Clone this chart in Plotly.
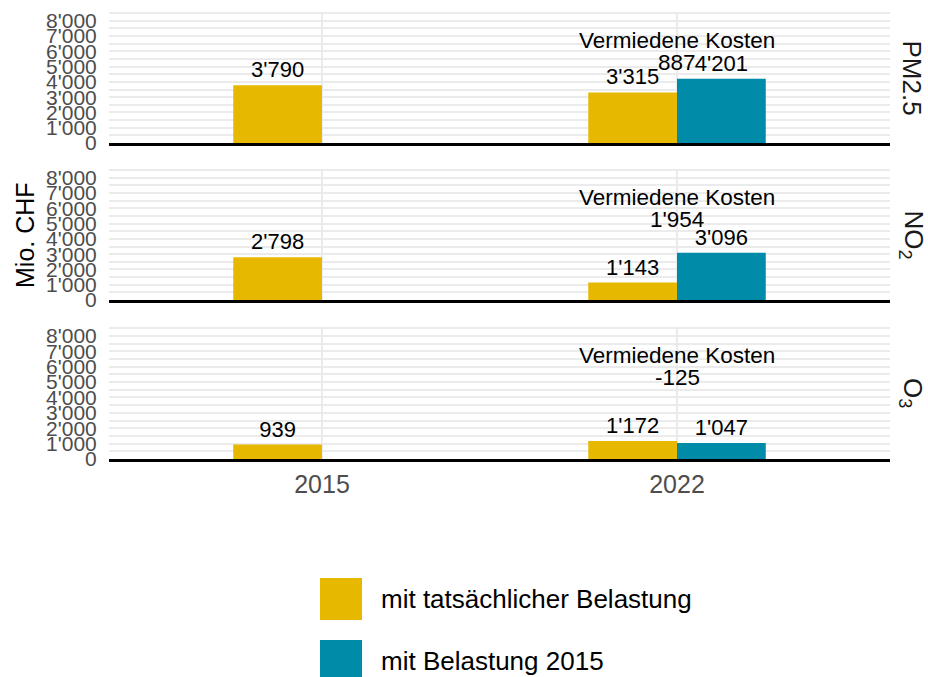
import plotly.graph_objects as go
from plotly.subplots import make_subplots

# ---- data ----
years = ["2015", "2022"]
pollutants = ["PM2.5", "NO<sub>2</sub>", "O<sub>3</sub>"]
actual = [[3790, 3315], [2798, 1143], [939, 1172]]          # mit tatsächlicher Belastung
base2015 = [[None, 4201], [None, 3096], [None, 1047]]        # mit Belastung 2015
avoided = [887, 1954, -125]                                  # Vermiedene Kosten (2022)
series_names = ["mit tatsächlicher Belastung", "mit Belastung 2015"]
colors = ["#E7B800", "#008BA8"]
y_tickvals = [0, 1000, 2000, 3000, 4000, 5000, 6000, 7000, 8000]
y_ticktext = ["0", "1'000", "2'000", "3'000", "4'000", "5'000", "6'000", "7'000", "8'000"]
avoided_y = 6000
avoided_year = "2022"

FONT = "Liberation Sans"


def fmt(v):
    if v is None:
        return ""
    return f"{v:,}".replace(",", "'")


W, H = 928, 677


def px_x(x):
    return x / W


def px_y(y):
    return 1 - y / H


fig = make_subplots(rows=3, cols=1, shared_xaxes=True)

panels_px = [(12, 143), (169, 300), (327, 459)]
xdom = [px_x(109), px_x(890)]

for i in range(3):
    r = i + 1
    for vals, name, col in [(actual[i], series_names[0], colors[0]),
                            (base2015[i], series_names[1], colors[1])]:
        fig.add_trace(go.Bar(
            x=years, y=vals, name=name, marker_color=col, marker_line_width=0,
            text=[fmt(v) for v in vals], textposition="outside",
            textfont=dict(size=22, color="black", family=FONT),
            outsidetextfont=dict(size=22, color="black", family=FONT),
            constraintext="none", cliponaxis=False, showlegend=False,
            hoverinfo="skip",
        ), row=r, col=1)
    ax = "" if r == 1 else str(r)
    xi = years.index(avoided_year)
    fig.add_annotation(x=xi, y=avoided_y, xref=f"x{ax}", yref=f"y{ax}",
                       xanchor="center", yanchor="middle",
                       text="Vermiedene Kosten", showarrow=False, yshift=11,
                       font=dict(size=22.5, color="black", family=FONT))
    fig.add_annotation(x=xi, y=avoided_y, xref=f"x{ax}", yref=f"y{ax}",
                       xanchor="center", yanchor="middle",
                       text=fmt(avoided[i]), showarrow=False, yshift=-11,
                       font=dict(size=22.5, color="black", family=FONT))
    top, bot = panels_px[i]
    ydom = [px_y(bot), px_y(top)]
    fig.update_yaxes(row=r, col=1, domain=ydom, range=[0, 8580],
                     tickvals=y_tickvals, ticktext=y_ticktext,
                     ticks="outside", ticklen=7, tickcolor="rgba(0,0,0,0)",
                     tickfont=dict(size=21, color="#4d4d4d", family=FONT),
                     showgrid=True, gridcolor="#ebebeb", gridwidth=2,
                     zeroline=False, showline=False, automargin=False,
                     minor=dict(dtick=500, tick0=0, showgrid=True,
                                gridcolor="#ebebeb", gridwidth=2))
    fig.update_xaxes(row=r, col=1, domain=xdom, type="category", range=[-0.6, 1.6],
                     showgrid=True, gridcolor="#ebebeb", gridwidth=2,
                     showline=True, linecolor="black", linewidth=2.5,
                     ticks="outside", ticklen=1, tickcolor="rgba(0,0,0,0)",
                     showticklabels=(r == 3), automargin=False,
                     tickfont=dict(size=25, color="#4d4d4d", family=FONT))
    fig.add_annotation(x=px_x(912), y=px_y((top + bot) / 2), xref="paper", yref="paper",
                       xanchor="center", yanchor="middle",
                       text=pollutants[i], showarrow=False, textangle=90,
                       font=dict(size=26, color="#1a1a1a", family=FONT))

fig.add_annotation(x=px_x(25), y=px_y(235), xref="paper", yref="paper",
                   xanchor="center", yanchor="middle",
                   text="Mio. CHF", showarrow=False, textangle=-90,
                   font=dict(size=25, color="black", family=FONT))

legend_rows = [(578, 620), (640, 682)]
for (y0, y1), name, col in zip(legend_rows, series_names, colors):
    fig.add_shape(type="rect", xref="paper", yref="paper",
                  x0=px_x(320), x1=px_x(362), y0=px_y(y1), y1=px_y(y0),
                  fillcolor=col, line_width=0)
    fig.add_annotation(x=px_x(379), y=px_y((y0 + y1) / 2), xref="paper", yref="paper",
                       xanchor="left", yanchor="middle", text=name, showarrow=False,
                       font=dict(size=26, color="black", family=FONT))

fig.update_layout(
    width=W, height=H, barmode="group", bargap=0.5, bargroupgap=0,
    margin=dict(l=0, r=0, t=0, b=0),
    plot_bgcolor="white", paper_bgcolor="white", showlegend=False,
    font=dict(family=FONT), hovermode=False,
)

fig.write_html(
    "out.html",
    config={"displayModeBar": False},
    post_script=("document.documentElement.style.margin='0';"
                 "document.body.style.margin='0';"
                 "document.documentElement.style.overflow='hidden';"
                 "document.body.style.overflow='hidden';"),
)
